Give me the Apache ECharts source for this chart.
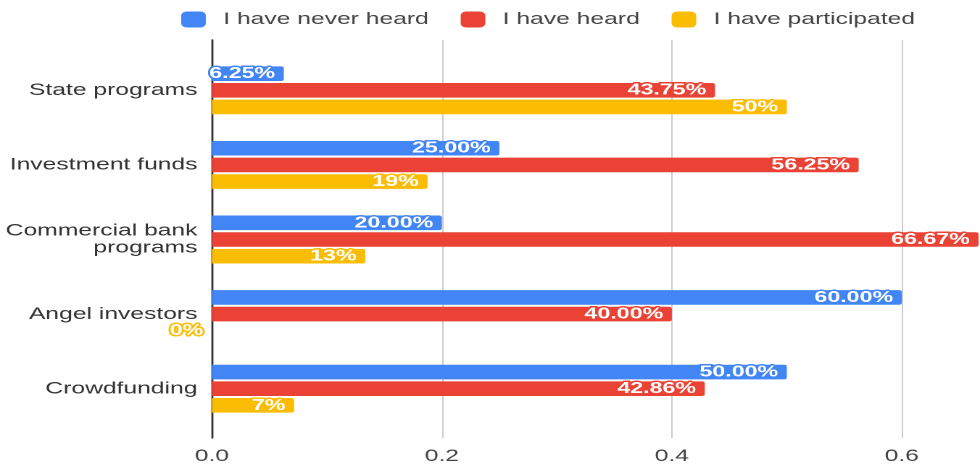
<!DOCTYPE html>
<html>
<head>
<meta charset="utf-8">
<script src="https://cdn.jsdelivr.net/npm/echarts@6/dist/echarts.min.js"></script>
<style>
  html, body { margin: 0; padding: 0; background: #fff; }
  #wrap { width: 980px; height: 468px; overflow: hidden; position: relative; }
  #chart { width: 676px; height: 468px; transform: scaleX(1.4497); transform-origin: 0 0; }
</style>
</head>
<body>
<div id="wrap"><div id="chart"></div></div>
<script>
const categories = ['State programs', 'Investment funds', 'Commercial bank\nprograms', 'Angel investors', 'Crowdfunding'];
const seriesNames = ['I have never heard', 'I have heard', 'I have participated'];
const neverHeard = [0.0625, 0.25, 0.20, 0.60, 0.50];
const heard = [0.4375, 0.5625, 0.6667, 0.40, 0.4286];
const participated = [0.50, 0.1875, 0.1333, 0.00, 0.0714];
const xTicks = [0, 0.2, 0.4, 0.6];
const colors = ['#4285F4', '#EA4335', '#FBBC04'];

const fmt2 = p => (p.value * 100).toFixed(2) + '%';
const fmt0 = p => Math.round(p.value * 100) + '%';

const chart = echarts.init(document.getElementById('chart'), null, { renderer: 'canvas', devicePixelRatio: 2 });

const gridLeft = 146.2;
const xMax = 0.668;

function barSeries(name, data, color, fmt) {
  return {
    name: name,
    type: 'bar',
    xAxisIndex: 0,
    yAxisIndex: 0,
    data: data,
    barWidth: 14.6,
    barGap: '14%',
    itemStyle: { color: color, borderRadius: [0, 2, 2, 0] },
    label: {
      show: true,
      position: 'insideRight',
      distance: 6,
      formatter: fmt,
      color: '#ffffff',
      fontFamily: 'Liberation Sans, Arial, sans-serif',
      fontWeight: 'bold',
      fontSize: 16,
      textBorderColor: color,
      textBorderWidth: 3
    },
    emphasis: { disabled: true }
  };
}

chart.setOption({
  animation: false,
  color: colors,
  legend: {
    data: seriesNames,
    left: 120,
    top: 6,
    itemWidth: 17,
    itemHeight: 16,
    itemGap: 22,
    icon: 'roundRect',
    textStyle: {
      fontFamily: 'Liberation Sans, Arial, sans-serif',
      fontSize: 17,
      color: '#444',
      padding: [0, 0, 0, 7]
    }
  },
  grid: [
    { left: gridLeft, right: 0, top: 53, bottom: 42 },
    { left: gridLeft, right: 0, top: 40, bottom: 30 }
  ],
  xAxis: [
    {
      gridIndex: 0, type: 'value', min: 0, max: xMax, interval: 0.2,
      axisLine: { show: false }, axisTick: { show: false },
      axisLabel: { show: false }, splitLine: { show: false }
    },
    {
      gridIndex: 1, type: 'value', min: 0, max: xMax, interval: 0.2,
      axisLine: { show: false }, axisTick: { show: false },
      axisLabel: {
        margin: 10,
        showMaxLabel: false,
        fontFamily: 'Liberation Sans, Arial, sans-serif',
        fontSize: 17,
        color: '#444',
        formatter: v => (xTicks.indexOf(v) >= 0 ? v.toFixed(1) : '')
      },
      splitLine: { show: true, showMaxLine: false, lineStyle: { color: '#cccccc', width: 1 } }
    }
  ],
  yAxis: [
    {
      gridIndex: 0, type: 'category', data: categories, inverse: true,
      axisLine: { show: false }, axisTick: { show: false },
      axisLabel: {
        margin: 10,
        fontFamily: 'Liberation Sans, Arial, sans-serif',
        fontSize: 17,
        lineHeight: 17,
        color: '#333'
      }
    },
    {
      gridIndex: 1, type: 'value', min: 0, max: 1,
      axisLine: { show: true, lineStyle: { color: '#333', width: 1.4 } },
      axisTick: { show: false }, axisLabel: { show: false }, splitLine: { show: false }
    }
  ],
  series: [
    barSeries(seriesNames[0], neverHeard, colors[0], fmt2),
    barSeries(seriesNames[1], heard, colors[1], fmt2),
    barSeries(seriesNames[2], participated, colors[2], fmt0)
  ]
});
</script>
</body>
</html>
